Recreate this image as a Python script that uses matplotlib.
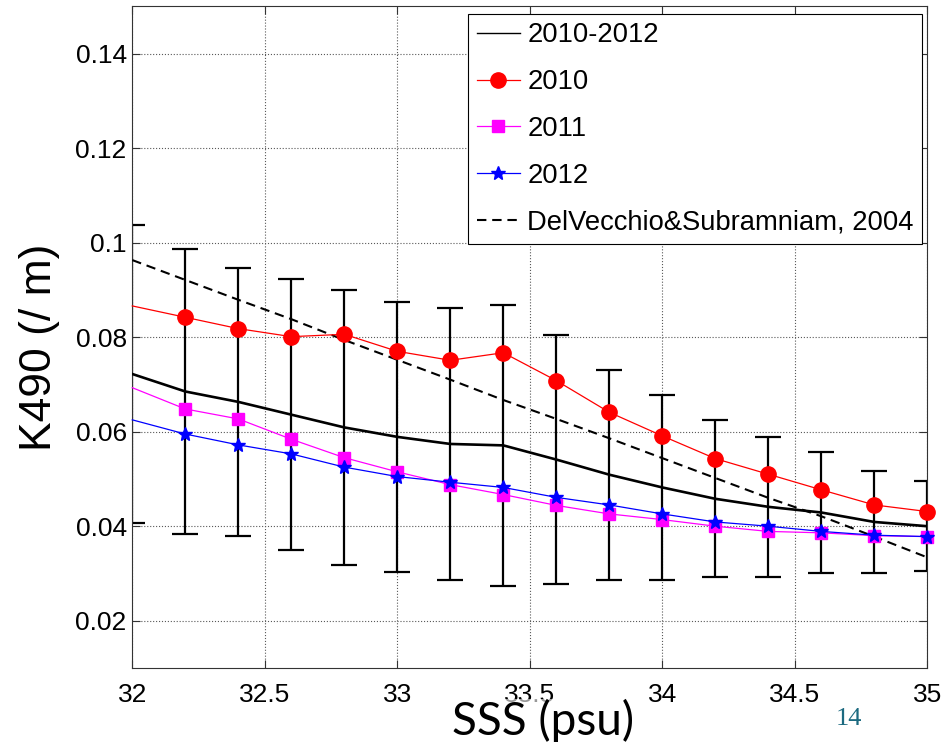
import numpy as np
import matplotlib.pyplot as plt
from matplotlib.ticker import FixedLocator, FixedFormatter

sss = [32.0, 32.2, 32.4, 32.6, 32.8, 33.0, 33.2, 33.4,
       33.6, 33.8, 34.0, 34.2, 34.4, 34.6, 34.8, 35.0]

k_all = [0.0722, 0.0685, 0.0663, 0.0636, 0.0609, 0.0589, 0.0574, 0.0571,
         0.0541, 0.0509, 0.0482, 0.0458, 0.0441, 0.0429, 0.0409, 0.0400]
k_std = [0.0316, 0.0302, 0.0284, 0.0287, 0.0291, 0.0286, 0.0288, 0.0298,
         0.0263, 0.0222, 0.0195, 0.0166, 0.0148, 0.0128, 0.0107, 0.0095]
k_2010 = [0.0866, 0.0842, 0.0818, 0.0801, 0.0806, 0.0770, 0.0751, 0.0767,
          0.0708, 0.0641, 0.0591, 0.0543, 0.0510, 0.0477, 0.0445, 0.0431]
k_2011 = [0.0693, 0.0648, 0.0627, 0.0584, 0.0545, 0.0515, 0.0488, 0.0467,
          0.0444, 0.0426, 0.0414, 0.0400, 0.0389, 0.0386, 0.0380, 0.0378]
k_2012 = [0.0625, 0.0595, 0.0572, 0.0553, 0.0525, 0.0505, 0.0493, 0.0482,
          0.0461, 0.0445, 0.0426, 0.0409, 0.0400, 0.0389, 0.0381, 0.0378]
k_delvecchio = [0.0963, 0.0921, 0.0879, 0.0838, 0.0794, 0.0752, 0.0710, 0.0667,
                0.0627, 0.0586, 0.0544, 0.0502, 0.0460, 0.0421, 0.0378, 0.0334]

xticks = [32, 32.5, 33, 33.5, 34, 34.5, 35]
xticklabels = ["32", "32.5", "33", "33.5", "34", "34.5", "35"]
yticks = [0.02, 0.04, 0.06, 0.08, 0.1, 0.12, 0.14]
yticklabels = ["0.02", "0.04", "0.06", "0.08", "0.1", "0.12", "0.14"]

plt.rcParams['font.family'] = ['Liberation Sans', 'DejaVu Sans']

fig = plt.figure(figsize=(9.45, 7.42), dpi=100)
ax = fig.add_axes([0.140, 0.0997, 0.8413, 0.8919])

marks = list(range(1, len(sss)))

ax.errorbar(sss, k_all, yerr=k_std, fmt='none', ecolor='black',
            elinewidth=1.6, capsize=9.7, capthick=1.6, zorder=2)
ax.plot(sss, k_delvecchio, color='black', lw=1.5, linestyle=(0, (4.5, 2.8)),
        zorder=3, label='DelVecchio&Subramniam, 2004')
ax.plot(sss, k_all, color='black', lw=1.9, zorder=3, label='2010-2012')
ax.plot(sss, k_2010, color='#ff0000', lw=0.9, marker='o', markersize=11,
        markevery=marks, clip_on=False, zorder=4, label='2010')
ax.plot(sss, k_2011, color='#ff00ff', lw=0.9, marker='s', markersize=8,
        markevery=marks, clip_on=False, zorder=4, label='2011')
ax.plot(sss, k_2012, color='#0000ff', lw=0.9, marker='*', markersize=10,
        markevery=marks, clip_on=False, zorder=5, label='2012')

ax.set_xlim(32, 35)
ax.set_ylim(0.01, 0.15)
ax.xaxis.set_major_locator(FixedLocator(xticks))
ax.xaxis.set_major_formatter(FixedFormatter(xticklabels))
ax.yaxis.set_major_locator(FixedLocator(yticks))
ax.yaxis.set_major_formatter(FixedFormatter(yticklabels))
ax.tick_params(direction='in', top=True, right=True, length=6, width=0.8,
               labelsize=19, color='#333333')
ax.tick_params(axis='x', pad=11)
ax.tick_params(axis='y', pad=4)
ax.grid(True, color='0.35', linestyle=':', linewidth=0.8)
for s in ax.spines.values():
    s.set_color('#333333')
    s.set_linewidth(0.8)

handles, labels = ax.get_legend_handles_labels()
order = [1, 2, 3, 4, 0]
leg = ax.legend([handles[i] for i in order], [labels[i] for i in order],
                loc='upper right', bbox_to_anchor=(0.993, 0.988),
                borderaxespad=0, fontsize=19.7, fancybox=False, framealpha=1,
                edgecolor='black', handlelength=1.6, handletextpad=0.25,
                labelspacing=0.76, borderpad=0.3)
leg.get_frame().set_linewidth(0.8)
leg.get_lines()[0].set_linewidth(1.0)

fig.text(0.042, 0.532, "K490 (/ m)", rotation=90, ha='center', va='center',
         fontsize=32)
fig.text(0.5746, 0.0094, "SSS (psu)", ha='center', va='baseline',
         fontsize=33, family=['Lato', 'DejaVu Sans'],
         bbox=dict(facecolor='white', edgecolor='none', alpha=0.6, pad=0))
fig.text(0.898, 0.0229, "14", ha='center', va='baseline', fontsize=19,
         color='#1c6a80', family=['Liberation Serif', 'DejaVu Serif'])

fig.savefig('out.png', dpi=100)
